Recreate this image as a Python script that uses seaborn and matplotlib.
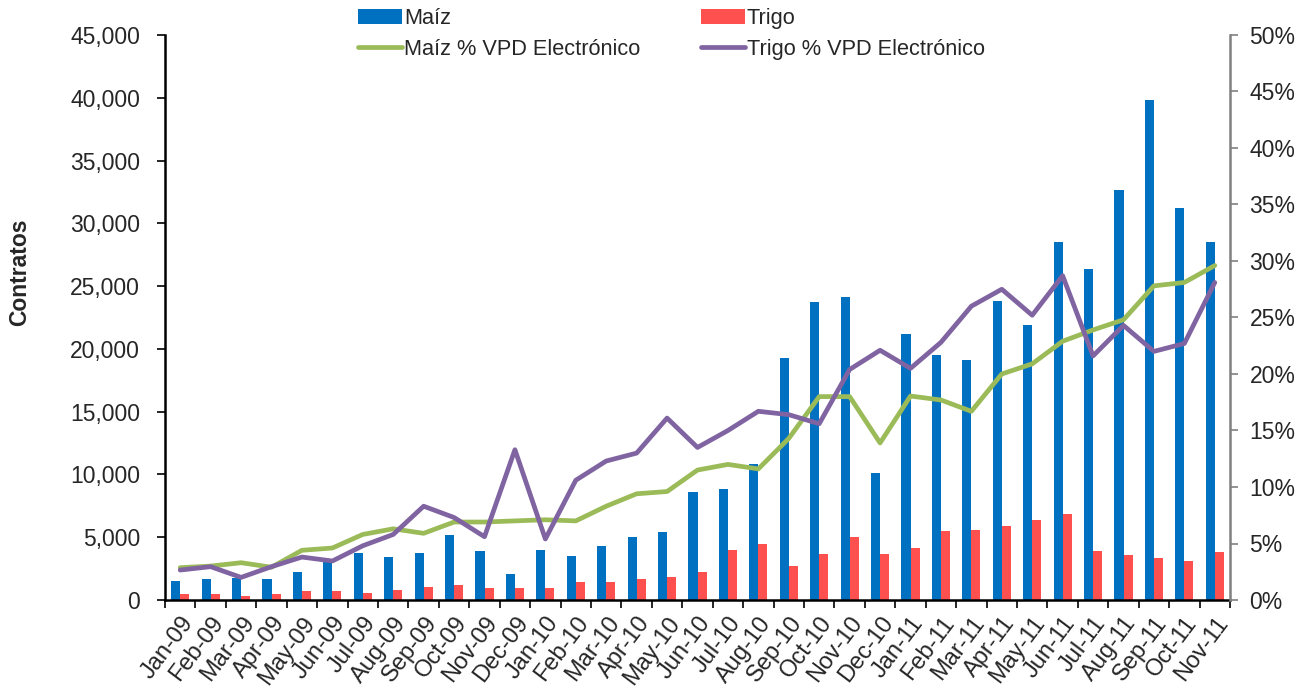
import numpy as np
import pandas as pd
import matplotlib
matplotlib.use("Agg")
import matplotlib.pyplot as plt
import matplotlib.ticker as mticker
import seaborn as sns

months = ["Jan-09", "Feb-09", "Mar-09", "Apr-09", "May-09", "Jun-09", "Jul-09", "Aug-09",
          "Sep-09", "Oct-09", "Nov-09", "Dec-09", "Jan-10", "Feb-10", "Mar-10", "Apr-10",
          "May-10", "Jun-10", "Jul-10", "Aug-10", "Sep-10", "Oct-10", "Nov-10", "Dec-10",
          "Jan-11", "Feb-11", "Mar-11", "Apr-11", "May-11", "Jun-11", "Jul-11", "Aug-11",
          "Sep-11", "Oct-11", "Nov-11"]

maiz = [1500, 1650, 1750, 1650, 2230, 3050, 3740, 3420, 3740, 5150, 3870, 2100,
        3980, 3530, 4330, 5040, 5390, 8580, 8840, 10800, 19300, 23700, 24100, 10090,
        21200, 19500, 19100, 23800, 21900, 28500, 26400, 32660, 39830, 31200, 28500]

trigo = [480, 480, 320, 480, 690, 690, 580, 800, 1035, 1170, 930, 930,
         930, 1400, 1400, 1650, 1860, 2230, 3980, 4460, 2710, 3660, 5040, 3660,
         4110, 5520, 5600, 5875, 6360, 6850, 3900, 3560, 3315, 3070, 3800]

maiz_pct = [2.86, 3.0, 3.3, 2.9, 4.4, 4.6, 5.8, 6.3, 5.9, 6.9, 6.9, 7.0,
            7.1, 7.0, 8.3, 9.4, 9.6, 11.5, 12.0, 11.6, 14.3, 18.0, 18.0, 13.9,
            18.05, 17.7, 16.7, 20.0, 20.9, 22.9, 23.9, 24.8, 27.8, 28.1, 29.6]

trigo_pct = [2.65, 2.95, 2.0, 2.95, 3.8, 3.45, 4.8, 5.8, 8.3, 7.3, 5.6, 13.3,
             5.4, 10.6, 12.3, 13.0, 16.1, 13.5, 15.0, 16.7, 16.4, 15.6, 20.4, 22.1,
             20.5, 22.8, 26.0, 27.5, 25.2, 28.7, 21.6, 24.3, 22.0, 22.7, 28.1]

series_names = ["Maíz", "Trigo"]
line_names = ["Maíz % VPD Electrónico", "Trigo % VPD Electrónico"]
bar_colors = ["#0070C0", "#FF5050"]
line_colors = ["#9BBB59", "#8064A2"]

sns.set_theme(style="white")
plt.rcParams["font.family"] = ["Liberation Sans", "DejaVu Sans"]

bars_df = pd.DataFrame({
    "mes": months * 2,
    "serie": [series_names[0]] * len(months) + [series_names[1]] * len(months),
    "contratos": maiz + trigo,
})
pos = np.arange(len(months))
lines_df = pd.DataFrame({
    "pos": np.concatenate([pos, pos]),
    "serie": [line_names[0]] * len(months) + [line_names[1]] * len(months),
    "pct": np.array(maiz_pct + trigo_pct) / 100.0,
})

fig = plt.figure(figsize=(13.13, 6.98), dpi=100)
ax = fig.add_axes([165 / 1313, 1 - 600 / 698, (1230 - 165) / 1313, (600 - 35) / 698])

sns.barplot(data=bars_df, x="mes", y="contratos", hue="serie", order=months,
            hue_order=series_names, palette=bar_colors, saturation=1, width=0.6,
            dodge=True, linewidth=0, ax=ax, legend=True)
ax.set_xlim(-0.5, len(months) - 0.5)
ax.set_ylim(0, 45000)
ax.set_yticks(np.arange(0, 45001, 5000))
ax.yaxis.set_major_formatter(mticker.FuncFormatter(lambda v, p: f"{v:,.0f}"))
ax.set_xlabel("")
ax.set_ylabel("Contratos", fontsize=16.5, fontweight="bold")
ax.yaxis.set_label_coords((31 - 165) / 1065, (600 - 272) / 565)
ax.tick_params(axis="y", labelsize=16.5, length=6, width=1.2, color="black",
               direction="out", pad=12, left=True)
ax.set_xticks(pos)
ax.set_xticklabels(months, rotation=53, ha="right", rotation_mode="anchor", fontsize=17)
ax.tick_params(axis="x", which="major", length=0, pad=9)
ax.set_xticks(np.arange(-0.5, len(months), 1.0), minor=True)
ax.tick_params(axis="x", which="minor", length=6, width=1.2, color="black",
               direction="out", bottom=True)
for s in ["top", "right"]:
    ax.spines[s].set_visible(False)
ax.spines["left"].set_color("black")
ax.spines["left"].set_linewidth(1.8)
ax.spines["bottom"].set_color("black")
ax.spines["bottom"].set_linewidth(1.8)
bar_handles, bar_labels = ax.get_legend_handles_labels()
if ax.get_legend() is not None:
    ax.get_legend().remove()

ax2 = ax.twinx()
sns.lineplot(data=lines_df, x="pos", y="pct", hue="serie", hue_order=line_names,
             palette=line_colors, linewidth=3.4, ax=ax2, legend=True)
ax2.set_ylim(0, 0.5)
ax2.set_yticks(np.arange(0, 0.501, 0.05))
ax2.yaxis.set_major_formatter(mticker.PercentFormatter(xmax=1, decimals=0))
ax2.set_ylabel("")
ax2.set_xlabel("")
ax2.set_xlim(-0.5, len(months) - 0.5)
ax2.tick_params(axis="y", labelsize=16.5, length=6, width=1.2, color="#808080",
                direction="out", pad=8, right=True)
for s in ["top", "left", "bottom"]:
    ax2.spines[s].set_visible(False)
ax2.spines["right"].set_color("#808080")
ax2.spines["right"].set_linewidth(1.8)
line_handles, line_labels = ax2.get_legend_handles_labels()
if ax2.get_legend() is not None:
    ax2.get_legend().remove()

handles = [bar_handles[0], line_handles[0], bar_handles[1], line_handles[1]]
labels = [bar_labels[0], line_labels[0], bar_labels[1], line_labels[1]]
fig.legend(handles, labels, loc="upper left", bbox_to_anchor=(358 / 1313, 1 - 8 / 698),
           ncol=2, frameon=False, fontsize=15.7, handlelength=2.0,
           handletextpad=0.1, columnspacing=2.8, labelspacing=0.45,
           borderaxespad=0.0, borderpad=0.0)

fig.savefig("out.png", dpi=100)
